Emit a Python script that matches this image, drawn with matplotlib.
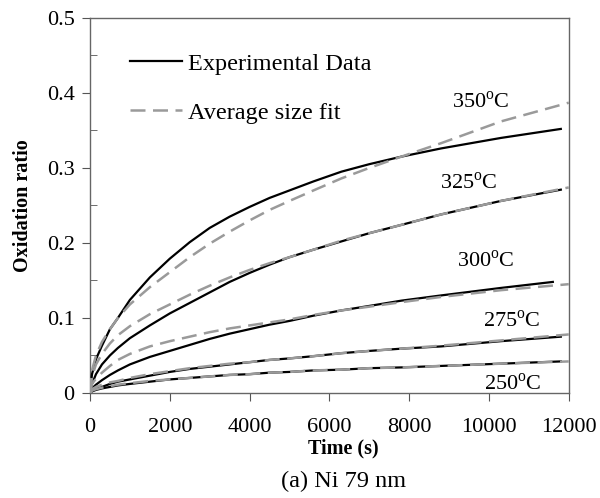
import matplotlib
matplotlib.use('Agg')
import matplotlib.pyplot as plt

plt.rcParams['font.family'] = ['Liberation Serif', 'DejaVu Serif']
plt.rcParams['mathtext.fontset'] = 'custom'
plt.rcParams['mathtext.rm'] = 'Liberation Serif'

# time grid (s)
t_exp = [0, 50, 150, 300, 500, 700, 1000, 1500, 2000, 2500, 3000, 3500, 4000, 4500,
         5000, 5600, 6300, 7000, 7800, 8800, 10300, 11800]
t_exp300 = t_exp[:-1] + [11600]
t_fit = t_exp[:-1] + [12000]

exp_350 = [0, 0.025, 0.045, 0.063, 0.085, 0.1, 0.124, 0.154, 0.179, 0.201, 0.22, 0.235,
           0.248, 0.26, 0.27, 0.282, 0.295, 0.305, 0.315, 0.326, 0.34, 0.352]
fit_350 = [0, 0.03, 0.05, 0.068, 0.085, 0.1, 0.118, 0.141, 0.161, 0.181, 0.199, 0.215,
           0.23, 0.244, 0.256, 0.27, 0.286, 0.3, 0.315, 0.333, 0.362, 0.387]
exp_325 = [0, 0.012, 0.025, 0.038, 0.05, 0.06, 0.073, 0.09, 0.106, 0.12, 0.134, 0.148,
           0.16, 0.171, 0.181, 0.191, 0.202, 0.213, 0.224, 0.238, 0.256, 0.271]
fit_325 = [0, 0.022, 0.038, 0.052, 0.066, 0.077, 0.089, 0.105, 0.118, 0.131, 0.143, 0.154,
           0.164, 0.173, 0.181, 0.191, 0.203, 0.213, 0.224, 0.238, 0.256, 0.274]
exp_300 = [0, 0.006, 0.011, 0.017, 0.024, 0.03, 0.038, 0.048, 0.056, 0.064, 0.072, 0.079,
           0.085, 0.091, 0.096, 0.103, 0.11, 0.116, 0.123, 0.13, 0.14, 0.148]
fit_300 = [0, 0.012, 0.019, 0.027, 0.036, 0.044, 0.052, 0.062, 0.069, 0.075, 0.081, 0.086,
           0.09, 0.094, 0.098, 0.104, 0.11, 0.115, 0.121, 0.128, 0.137, 0.145]
exp_275 = [0, 0.003, 0.005, 0.008, 0.012, 0.015, 0.018, 0.023, 0.028, 0.032, 0.035, 0.038,
           0.041, 0.044, 0.046, 0.049, 0.053, 0.056, 0.059, 0.062, 0.069, 0.075]
fit_275 = [0, 0.005, 0.008, 0.011, 0.014, 0.016, 0.02, 0.025, 0.029, 0.033, 0.036, 0.039,
           0.041, 0.044, 0.046, 0.049, 0.053, 0.056, 0.059, 0.063, 0.07, 0.078]
exp_250 = [0, 0.002, 0.004, 0.006, 0.008, 0.01, 0.012, 0.015, 0.018, 0.02, 0.022, 0.024,
           0.025, 0.027, 0.028, 0.03, 0.031, 0.033, 0.034, 0.036, 0.039, 0.042]
fit_250 = [0, 0.003, 0.005, 0.007, 0.009, 0.011, 0.013, 0.016, 0.018, 0.02, 0.022, 0.024,
           0.025, 0.027, 0.028, 0.03, 0.031, 0.033, 0.034, 0.036, 0.039, 0.042]

temps = ['350', '325', '300', '275', '250']
label_pos = [(9800, 0.387), (9500, 0.28), (9930, 0.175), (10560, 0.095), (10590, 0.012)]

fig = plt.figure(figsize=(6, 4.98), dpi=100)
ax = fig.add_axes([0.15, 0.211, 0.798, 0.753])

gray = '#9a9a9a'
fits = [fit_350, fit_325, fit_300, fit_275, fit_250]
exps = [exp_350, exp_325, exp_300, exp_275, exp_250]
t_exps = [t_exp, t_exp, t_exp300, t_exp, t_exp]
for i in range(5):
    ax.plot(t_exps[i], exps[i], color='black', lw=1.6,
            label='Experimental Data' if i == 0 else None, zorder=3)
    ax.plot(t_fit, fits[i], color=gray, lw=1.8, dashes=(6, 3),
            label='Average size fit' if i == 0 else None, zorder=4)

for temp, (x, y) in zip(temps, label_pos):
    ax.text(x, y, temp + r'$^{\rm o}$C', fontsize=16, ha='center', va='center')

ax.set_xlim(0, 12000)
ax.set_ylim(0, 0.5)
ax.set_xticks([0, 2000, 4000, 6000, 8000, 10000, 12000])
ax.set_yticks([0, 0.1, 0.2, 0.3, 0.4, 0.5])
ax.set_yticklabels(['0', '0.1', '0.2', '0.3', '0.4', '0.5'])
ax.set_yticks([0.05, 0.15, 0.25, 0.35, 0.45], minor=True)
ax.tick_params(axis='both', which='major', direction='out', length=6, labelsize=16,
               color='#555555')
ax.tick_params(axis='y', which='major', pad=5)
ax.tick_params(axis='x', which='major', pad=12)
ax.tick_params(axis='y', which='minor', direction='in', length=5, color='#555555')
for s in ax.spines.values():
    s.set_color('#666666')
    s.set_linewidth(1.0)

ax.set_ylabel('Oxidation ratio', fontsize=14.5, fontweight='bold')
ax.yaxis.set_label_coords(-0.119, 0.5)
fig.text(343 / 600, 1 - 448 / 498, 'Time (s)', fontsize=14.5, fontweight='bold',
         ha='center', va='center')
fig.text(344 / 600, 1 - 481 / 498, '(a) Ni 79 nm', fontsize=17.5, ha='center', va='center')

leg = ax.legend(loc='upper left', bbox_to_anchor=(0.083, 0.907), frameon=False, fontsize=17.5,
                handlelength=2.14, handletextpad=0.25, labelspacing=1.1,
                borderpad=0, borderaxespad=0)

fig.savefig('out.png', dpi=100)
